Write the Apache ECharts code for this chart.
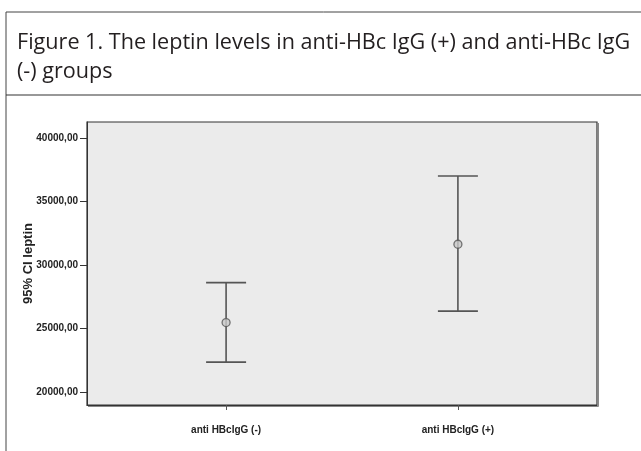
<!DOCTYPE html>
<html>
<head>
<meta charset="utf-8">
<script src="https://cdn.jsdelivr.net/npm/echarts@6/dist/echarts.min.js"></script>
<style>
html,body{margin:0;padding:0;background:#fff;}
#chart{width:641px;height:451px;}
</style>
</head>
<body>
<div id="chart"></div>
<script>
const categories = ['anti HBcIgG (-)', 'anti HBcIgG (+)'];
const means = [25480, 31640];
const lower = [22370, 26380];
const upper = [28620, 37010];
const yTicks = [20000, 25000, 30000, 35000, 40000];

const chart = echarts.init(document.getElementById('chart'));
const barData = categories.map((c, i) => [i, lower[i], upper[i]]);
const meanData = categories.map((c, i) => [i, means[i]]);

chart.setOption({
  animation: false,
  backgroundColor: '#fff',
  title: {
    text: 'Figure 1. The leptin levels in anti-HBc IgG (+) and anti-HBc IgG\n(-) groups',
    left: 12, top: 23,
    textStyle: { fontFamily: 'Open Sans', fontSize: 21.6, fontWeight: 'normal', color: '#231f20', lineHeight: 29 }
  },
  graphic: [
    { type: 'line', shape: { x1: 6, y1: 12, x2: 641, y2: 12 }, style: { stroke: '#444', lineWidth: 1 } },
    { type: 'line', shape: { x1: 6, y1: 12, x2: 6, y2: 451 }, style: { stroke: '#444', lineWidth: 1 } },
    { type: 'line', shape: { x1: 6, y1: 95, x2: 641, y2: 95 }, style: { stroke: '#333', lineWidth: 1.2 } },
    { type: 'line', shape: { x1: 598.5, y1: 123, x2: 598.5, y2: 406.5 }, style: { stroke: '#888', lineWidth: 1 } },
    { type: 'line', shape: { x1: 88, y1: 406.5, x2: 598.5, y2: 406.5 }, style: { stroke: '#888', lineWidth: 1 } }
  ],
  grid: {
    left: 87, right: 44, top: 122, bottom: 46,
    show: true, backgroundColor: '#ebebeb', borderColor: '#333', borderWidth: 1.2
  },
  xAxis: {
    type: 'value', min: -0.6, max: 1.6,
    splitLine: { show: false },
    axisLine: { show: true, onZero: false, lineStyle: { color: '#333' } },
    axisTick: { show: true, customValues: [0, 1], length: 5, lineStyle: { color: '#555' } },
    axisLabel: {
      customValues: [0, 1], margin: 20,
      formatter: v => categories[Math.round(v)],
      fontFamily: 'Liberation Sans', fontWeight: 'bold', fontSize: 10, color: '#222'
    }
  },
  yAxis: {
    type: 'value', min: 19000, max: 41250,
    name: '95% CI leptin', nameLocation: 'middle', nameGap: 52, nameMoveOverlap: false,
    nameTextStyle: { fontFamily: 'Liberation Sans', fontWeight: 'bold', fontSize: 13, color: '#222' },
    splitLine: { show: false },
    axisLine: { show: true, onZero: false, lineStyle: { color: '#333' } },
    axisTick: { show: true, customValues: yTicks, length: 7, lineStyle: { color: '#333' } },
    axisLabel: {
      customValues: yTicks, margin: 9,
      formatter: v => v.toFixed(2).replace('.', ','),
      fontFamily: 'Liberation Sans', fontWeight: 'bold', fontSize: 10, color: '#222'
    }
  },
  series: [
    {
      type: 'custom',
      data: barData,
      renderItem: function (params, api) {
        const x = api.value(0);
        const pLo = api.coord([x, api.value(1)]);
        const pHi = api.coord([x, api.value(2)]);
        const hw = 20;
        const st = { stroke: '#555', lineWidth: 1.6 };
        return {
          type: 'group',
          children: [
            { type: 'line', shape: { x1: pHi[0], y1: pHi[1], x2: pLo[0], y2: pLo[1] }, style: st },
            { type: 'line', shape: { x1: pHi[0] - hw, y1: pHi[1], x2: pHi[0] + hw, y2: pHi[1] }, style: st },
            { type: 'line', shape: { x1: pLo[0] - hw, y1: pLo[1], x2: pLo[0] + hw, y2: pLo[1] }, style: st }
          ]
        };
      },
      z: 2
    },
    {
      type: 'scatter',
      data: meanData,
      symbol: 'circle', symbolSize: 8,
      itemStyle: { color: '#c8c8c8', borderColor: '#555', borderWidth: 1.3 },
      z: 3
    }
  ]
});
</script>
</body>
</html>
